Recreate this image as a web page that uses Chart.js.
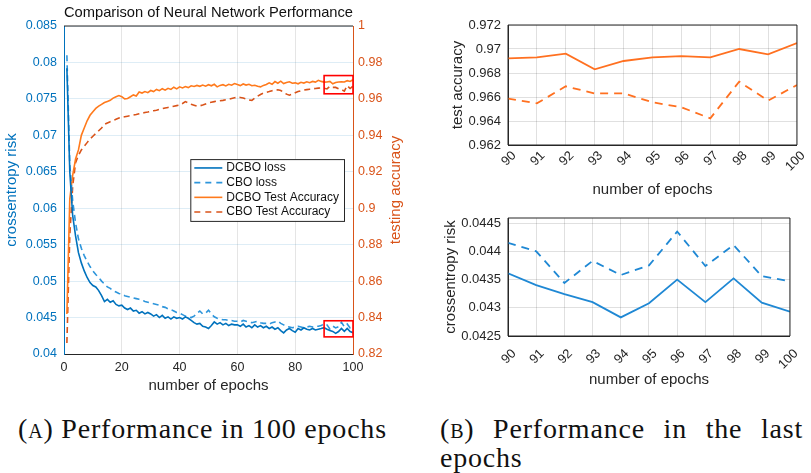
<!DOCTYPE html>
<html>
<head>
<meta charset="utf-8">
<script src="https://cdn.jsdelivr.net/npm/chart.js@4.4.1/dist/chart.umd.min.js"></script>
<style>
  html, body { margin: 0; padding: 0; background: #fff; }
  body { width: 811px; height: 473px; position: relative; overflow: hidden; }
  .box { position: absolute; }
  .cap { position: absolute; font-family: "Liberation Serif", "DejaVu Serif", serif; font-size: 28px; line-height: 32px; letter-spacing: 0.8px; color: #111; white-space: nowrap; }
  .sc { font-variant: small-caps; }
</style>
</head>
<body>
<div class="box" style="left:0;top:0;width:405px;height:400px"><canvas id="full"></canvas></div>
<div class="box" style="left:410px;top:0;width:401px;height:200px"><canvas id="lastAcc"></canvas></div>
<div class="box" style="left:410px;top:200px;width:401px;height:200px"><canvas id="lastLoss"></canvas></div>
<div class="cap" style="left:18px;top:413px">(<span class="sc">a</span>) Performance in 100 epochs</div>
<div class="cap" style="left:440px;top:413px;width:363px;white-space:normal;text-align:justify;text-align-last:justify">(<span class="sc">b</span>) Performance in the last</div>
<div class="cap" style="left:440px;top:442px">epochs</div>

<script>
// epochs 1..100
const epochs = Array.from({ length: 100 }, (_, i) => i + 1);

const lossDCBO = [
  0.0792, 0.0650, 0.0590, 0.0562, 0.0539, 0.0525, 0.0514, 0.0505, 0.0498, 0.0494,
  0.0492, 0.0487, 0.0480, 0.0472, 0.0475, 0.0471, 0.0473, 0.0468, 0.0466, 0.0467,
  0.0463, 0.0461, 0.0463, 0.0459, 0.0460, 0.0456, 0.0458, 0.0455, 0.0457, 0.0455,
  0.0452, 0.0454, 0.0450, 0.0453, 0.0449, 0.0451, 0.0448, 0.0451, 0.0449, 0.0450,
  0.0448, 0.0451, 0.0449, 0.0446, 0.0443, 0.0441, 0.0442, 0.0438, 0.0437, 0.0435,
  0.0439, 0.0444, 0.0441, 0.0443, 0.0440, 0.0442, 0.0439, 0.0441, 0.0440, 0.0440,
  0.0438, 0.0441, 0.0437, 0.0439, 0.0436, 0.0440, 0.0437, 0.0439, 0.0436, 0.0438,
  0.0435, 0.0437, 0.0434, 0.0436, 0.0432, 0.0429, 0.0433, 0.0435, 0.0432, 0.0430,
  0.0435, 0.0433, 0.0436, 0.0434, 0.0433, 0.0435, 0.0433, 0.0434, 0.0435, 0.04361,
  0.04340, 0.04324, 0.04310, 0.04283, 0.04308, 0.04350, 0.04310, 0.04352, 0.04309, 0.04293
];

const lossCBO = [
  0.0810, 0.0660, 0.0610, 0.0580, 0.0558, 0.0545, 0.0535, 0.0527, 0.0520, 0.0514,
  0.0509, 0.0505, 0.0500, 0.0496, 0.0492, 0.0490, 0.0487, 0.0485, 0.0483, 0.0482,
  0.0480, 0.0479, 0.0478, 0.0477, 0.0476, 0.0475, 0.0474, 0.0472, 0.0471, 0.0470,
  0.0469, 0.0468, 0.0467, 0.0465, 0.0464, 0.0462, 0.0461, 0.0459, 0.0457, 0.0456,
  0.0454, 0.0452, 0.0451, 0.0450, 0.0452, 0.0456, 0.0459, 0.0455, 0.0456, 0.0460,
  0.0455, 0.0451, 0.0449, 0.0448, 0.0447, 0.0447, 0.0446, 0.0446, 0.0445, 0.0445,
  0.0444, 0.0446, 0.0445, 0.0444, 0.0443, 0.0444, 0.0445, 0.0443, 0.0442, 0.0442,
  0.0441, 0.0443, 0.0444, 0.0445, 0.0442, 0.0440, 0.0438, 0.0437, 0.0436, 0.0437,
  0.0438, 0.0437, 0.0436, 0.0437, 0.0438, 0.0437, 0.0438, 0.0438, 0.0439, 0.04415,
  0.04400, 0.04344, 0.04383, 0.04358, 0.04375, 0.04435, 0.04374, 0.04411, 0.04356, 0.04347
];

const accDCBO = [
  0.842, 0.905, 0.918, 0.927, 0.932, 0.940, 0.944, 0.948, 0.951, 0.953,
  0.9548, 0.956, 0.957, 0.958, 0.9586, 0.9592, 0.9604, 0.9612, 0.9618, 0.9612,
  0.9600, 0.9602, 0.9612, 0.9622, 0.9616, 0.9638, 0.9632, 0.9640, 0.9634, 0.9646,
  0.9640, 0.9652, 0.9645, 0.9656, 0.9648, 0.9658, 0.9652, 0.9664, 0.9655, 0.9666,
  0.9660, 0.9668, 0.9662, 0.9672, 0.9668, 0.9674, 0.9669, 0.9676, 0.9670, 0.9678,
  0.9672, 0.9680, 0.9666, 0.9674, 0.9678, 0.9671, 0.9680, 0.9675, 0.9684, 0.9679,
  0.9673, 0.9682, 0.9676, 0.9680, 0.9672, 0.9675, 0.9669, 0.9666, 0.9674, 0.9679,
  0.9688, 0.9680, 0.9695, 0.9686, 0.9697, 0.9684, 0.9690, 0.9694, 0.9686, 0.9688,
  0.9683, 0.9691, 0.9687, 0.9694, 0.9689, 0.9696, 0.9692, 0.9702, 0.9696, 0.96922,
  0.96931, 0.96961, 0.96831, 0.96900, 0.96930, 0.96940, 0.96930, 0.97000, 0.96956, 0.97050
];

const accCBO = [
  0.826, 0.885, 0.912, 0.925, 0.929, 0.932, 0.934, 0.936, 0.938, 0.9395,
  0.941, 0.9425, 0.944, 0.946, 0.9468, 0.9475, 0.948, 0.9488, 0.9495, 0.950,
  0.9502, 0.9505, 0.9508, 0.9511, 0.9514, 0.9518, 0.9522, 0.9525, 0.9528, 0.9532,
  0.9535, 0.9538, 0.9542, 0.9546, 0.9550, 0.9553, 0.9556, 0.9560, 0.9563, 0.9566,
  0.9575, 0.9585, 0.9578, 0.9570, 0.9565, 0.9560, 0.9562, 0.9566, 0.9572, 0.9578,
  0.9582, 0.9585, 0.9588, 0.9590, 0.9592, 0.9595, 0.9598, 0.9602, 0.9606, 0.9609,
  0.9608, 0.9605, 0.9600, 0.9594, 0.9592, 0.9604, 0.9615, 0.9624, 0.9632, 0.9636,
  0.9640, 0.9645, 0.9648, 0.9650, 0.9646, 0.9636, 0.9626, 0.9620, 0.9626, 0.9634,
  0.9640, 0.9645, 0.9648, 0.9651, 0.9653, 0.9655, 0.9657, 0.9659, 0.9660, 0.96586,
  0.96547, 0.96689, 0.96630, 0.96630, 0.96556, 0.96514, 0.96422, 0.96728, 0.96570, 0.96700
];

// tick values
const epochTicks = [0, 20, 40, 60, 80, 100];
const lossTicks = [0.04, 0.045, 0.05, 0.055, 0.06, 0.065, 0.07, 0.075, 0.08, 0.085];
const accTicks = [0.82, 0.84, 0.86, 0.88, 0.9, 0.92, 0.94, 0.96, 0.98, 1];
const lastEpochTicks = [90, 91, 92, 93, 94, 95, 96, 97, 98, 99, 100];
const lastAccTicks = [0.962, 0.964, 0.966, 0.968, 0.97, 0.972];
const lastLossTicks = [0.0425, 0.043, 0.0435, 0.044, 0.0445];

// region shown in panel (b)
const zoomEpochs = [90, 100];
const zoomAcc = [0.9628, 0.9728];
const zoomLoss = [0.04235, 0.04456];

const FONT = '"Liberation Sans", Arial, Helvetica, sans-serif';
Chart.defaults.font.family = FONT;
Chart.defaults.font.size = 12.5;
Chart.defaults.color = '#262626';

const pts = (xs, ys) => ys.map((v, i) => ({ x: xs[i], y: v }));
const setTicks = arr => s => { s.ticks = arr.map(v => ({ value: v })); };
const fmt = v => String(v);

// box outline around the plot area
const frame = {
  id: 'frame',
  afterDraw(chart, args, opts) {
    const { ctx, chartArea: a } = chart;
    ctx.save();
    ctx.strokeStyle = '#262626';
    ctx.lineWidth = 1;
    ctx.beginPath();
    if (opts.all) {
      ctx.rect(a.left, a.top, a.right - a.left, a.bottom - a.top);
    } else {
      ctx.moveTo(a.left, a.top);
      ctx.lineTo(a.right, a.top);
    }
    ctx.stroke();
    ctx.restore();
  }
};

// red rectangles marking the last 10 epochs
const zoomBoxes = {
  id: 'zoomBoxes',
  afterDatasetsDraw(chart) {
    const { ctx, scales } = chart;
    const x = scales.x;
    ctx.save();
    ctx.strokeStyle = '#FF0000';
    ctx.lineWidth = 1.6;
    [[scales.yR, zoomAcc], [scales.yL, zoomLoss]].forEach(([s, r]) => {
      const x0 = x.getPixelForValue(zoomEpochs[0]);
      const x1 = x.getPixelForValue(zoomEpochs[1]);
      const y0 = s.getPixelForValue(r[1]);
      const y1 = s.getPixelForValue(r[0]);
      ctx.strokeRect(x0, y0, x1 - x0, y1 - y0);
    });
    ctx.restore();
  }
};

// legend box, "east" inside the axes
const boxLegend = {
  id: 'boxLegend',
  afterDraw(chart) {
    const { ctx, chartArea: a } = chart;
    const sets = chart.data.datasets;
    ctx.save();
    ctx.font = '12px ' + FONT;
    const textW = Math.max(...sets.map(d => ctx.measureText(d.label).width));
    const rowH = 14.7;
    const w = 4 + 28 + 4 + textW + 5;
    const h = rowH * sets.length + 3;
    const left = a.right - 9 - w;
    const top = (a.top + a.bottom) / 2 - h / 2;
    ctx.fillStyle = '#fff';
    ctx.fillRect(left, top, w, h);
    ctx.strokeStyle = '#262626';
    ctx.lineWidth = 1;
    ctx.strokeRect(left + 0.5, top + 0.5, w, h);
    sets.forEach((d, i) => {
      const cy = top + 1.5 + rowH * (i + 0.5);
      ctx.strokeStyle = d.borderColor;
      ctx.lineWidth = d.borderWidth;
      ctx.setLineDash(d.borderDash ? [6, 5] : []);
      ctx.beginPath();
      ctx.moveTo(left + 4, cy);
      ctx.lineTo(left + 32, cy);
      ctx.stroke();
      ctx.setLineDash([]);
      ctx.fillStyle = '#111';
      ctx.textBaseline = 'middle';
      ctx.fillText(d.label, left + 36, cy);
    });
    ctx.restore();
  }
};

// right-hand y label, read bottom to top like the left one
const rightTitle = {
  id: 'rightTitle',
  afterDraw(chart, args, opts) {
    const { ctx, chartArea: a } = chart;
    ctx.save();
    ctx.translate(opts.x, (a.top + a.bottom) / 2);
    ctx.rotate(-Math.PI / 2);
    ctx.font = '15px ' + FONT;
    ctx.fillStyle = opts.color;
    ctx.textAlign = 'center';
    ctx.textBaseline = 'middle';
    ctx.fillText(opts.text, 0, 0);
    ctx.restore();
  }
};

new Chart(document.getElementById('full'), {
  type: 'line',
  data: {
    datasets: [
      { label: 'DCBO loss', data: pts(epochs, lossDCBO), yAxisID: 'yL', borderColor: '#0072BD', borderWidth: 1.6 },
      { label: 'CBO loss', data: pts(epochs, lossCBO), yAxisID: 'yL', borderColor: '#2D95DB', borderWidth: 1.6, borderDash: [6, 4] },
      { label: 'DCBO Test Accuracy', data: pts(epochs, accDCBO), yAxisID: 'yR', borderColor: '#FF7A1C', borderWidth: 1.6 },
      { label: 'CBO Test Accuracy', data: pts(epochs, accCBO), yAxisID: 'yR', borderColor: '#D95319', borderWidth: 1.6, borderDash: [6, 4] }
    ]
  },
  options: {
    responsive: true,
    maintainAspectRatio: false,
    animation: false,
    elements: { point: { radius: 0 }, line: { tension: 0 } },
    plugins: {
      legend: { display: false },
      tooltip: { enabled: false },
      title: {
        display: true, fullSize: false,
        text: 'Comparison of Neural Network Performance',
        color: '#111', font: { size: 15, weight: 'normal' },
        padding: { top: 4, bottom: 4 }
      },
      frame: { all: false },
      rightTitle: { x: 396, text: 'testing accuracy', color: '#D95319' }
    },
    scales: {
      x: {
        type: 'linear', min: 0, max: 100,
        afterBuildTicks: setTicks(epochTicks),
        afterFit: s => { s.height = 46; },
        grid: { color: 'rgba(0,0,0,0.1)', drawTicks: false },
        border: { color: '#262626' },
        ticks: { padding: 6.5, maxRotation: 0, callback: fmt },
        title: { display: true, text: 'number of epochs', font: { size: 15 }, padding: { top: 0, bottom: 5 } }
      },
      yL: {
        position: 'left', min: 0.04, max: 0.085,
        afterBuildTicks: setTicks(lossTicks),
        afterFit: s => { s.width = 64; },
        grid: { color: 'rgba(0,114,189,0.13)', drawTicks: false },
        border: { color: '#0072BD' },
        ticks: { color: '#0072BD', padding: 7, callback: fmt },
        title: { display: true, text: 'crossentropy risk', color: '#0072BD', font: { size: 15 }, padding: { top: 3, bottom: 0 } }
      },
      yR: {
        position: 'right', min: 0.82, max: 1,
        afterBuildTicks: setTicks(accTicks),
        afterFit: s => { s.width = 52; },
        grid: { display: false, drawTicks: false },
        border: { color: '#D95319' },
        ticks: { color: '#D95319', padding: 5, callback: fmt }
      }
    }
  },
  plugins: [frame, zoomBoxes, boxLegend, rightTitle]
});

function lastChart(id, sets, yTicks, yTitle, o) {
  return new Chart(document.getElementById(id), {
    type: 'line',
    data: { datasets: sets },
    options: {
      responsive: true,
      maintainAspectRatio: false,
      animation: false,
      layout: { padding: { top: o.top, right: 6 } },
      elements: { point: { radius: 0 }, line: { tension: 0 } },
      plugins: { legend: { display: false }, tooltip: { enabled: false }, frame: { all: true } },
      scales: {
        x: {
          type: 'linear', min: 90, max: 100,
          afterBuildTicks: setTicks(lastEpochTicks),
          afterFit: s => { s.height = o.xh; },
          grid: { color: 'rgba(0,0,0,0.12)', drawTicks: false },
          border: { color: '#262626' },
          ticks: { font: { size: 13 }, padding: o.xpad, labelOffset: 6, minRotation: 45, maxRotation: 45, callback: fmt },
          title: { display: true, text: 'number of epochs', font: { size: 15 }, padding: { top: 0, bottom: o.xtb } }
        },
        y: {
          min: yTicks[0], max: o.ymax !== undefined ? o.ymax : yTicks[yTicks.length - 1],
          afterBuildTicks: setTicks(yTicks),
          afterFit: s => { s.width = 98; },
          grid: { color: 'rgba(0,0,0,0.12)', drawTicks: false },
          border: { color: '#262626' },
          ticks: { font: { size: 13 }, padding: 7, callback: fmt },
          title: { display: true, text: yTitle, font: { size: 15 }, padding: { top: o.ytp, bottom: 0 } }
        }
      }
    },
    plugins: [frame]
  });
}

const lastEpochs = epochs.slice(89);
const orange = '#FF7020';
const blue = '#1F88D4';

lastChart('lastAcc', [
  { label: 'DCBO Test Accuracy', data: pts(lastEpochs, accDCBO.slice(89)), borderColor: orange, borderWidth: 1.8 },
  { label: 'CBO Test Accuracy', data: pts(lastEpochs, accCBO.slice(89)), borderColor: orange, borderWidth: 1.8, borderDash: [8, 6] }
], lastAccTicks, 'test accuracy', { top: 25, xh: 55, xpad: 3, xtb: 1, ytp: 39 });

lastChart('lastLoss', [
  { label: 'DCBO loss', data: pts(lastEpochs, lossDCBO.slice(89)), borderColor: blue, borderWidth: 1.8 },
  { label: 'CBO loss', data: pts(lastEpochs, lossCBO.slice(89)), borderColor: blue, borderWidth: 1.8, borderDash: [8, 6] }
], lastLossTicks, 'crossentropy risk', { top: 18, xh: 64, xpad: 10, xtb: 11, ytp: 32, ymax: 0.04459 });
</script>
</body>
</html>
